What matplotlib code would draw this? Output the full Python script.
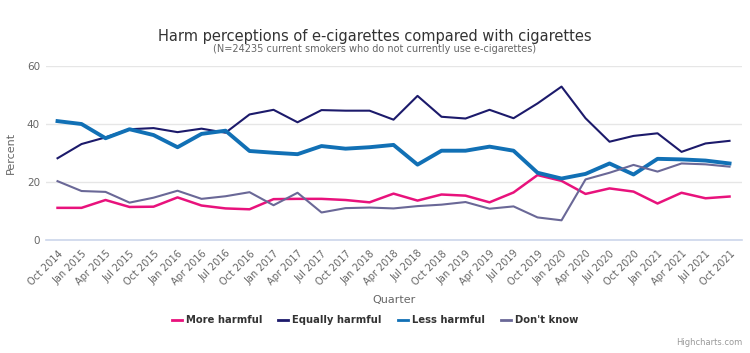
import numpy as np
import matplotlib
matplotlib.use('Agg')
import matplotlib.pyplot as plt

# 季度标签
quarters = ['Oct 2014', 'Jan 2015', 'Apr 2015', 'Jul 2015', 'Oct 2015', 'Jan 2016', 'Apr 2016',
            'Jul 2016', 'Oct 2016', 'Jan 2017', 'Apr 2017', 'Jul 2017', 'Oct 2017', 'Jan 2018',
            'Apr 2018', 'Jul 2018', 'Oct 2018', 'Jan 2019', 'Apr 2019', 'Jul 2019', 'Oct 2019',
            'Jan 2020', 'Apr 2020', 'Jul 2020', 'Oct 2020', 'Jan 2021', 'Apr 2021', 'Jul 2021',
            'Oct 2021']

# 各系列百分比
more_harmful = [11.1, 11.1, 13.8, 11.4, 11.5, 14.7, 11.9, 10.9, 10.6, 14.1, 14.2, 14.2, 13.8, 13.0,
                16.0, 13.6, 15.7, 15.3, 13.0, 16.4, 22.4, 20.4, 15.9, 17.8, 16.7, 12.6, 16.3, 14.4, 15.0]
equally_harmful = [28.2, 33.1, 35.4, 38.2, 38.6, 37.2, 38.4, 37.0, 43.3, 44.9, 40.6, 44.8, 44.6, 44.6,
                   41.5, 49.7, 42.5, 41.9, 44.9, 42.0, 47.1, 52.9, 42.0, 33.9, 35.9, 36.8, 30.4, 33.3, 34.2]
less_harmful = [41.0, 40.0, 35.1, 38.2, 36.2, 32.0, 36.6, 37.7, 30.7, 30.1, 29.6, 32.4, 31.5, 32.0,
                32.8, 26.0, 30.8, 30.8, 32.2, 30.8, 23.2, 21.2, 22.8, 26.4, 22.6, 28.0, 27.8, 27.4, 26.4]
dont_know = [20.3, 16.9, 16.6, 12.9, 14.6, 17.0, 14.2, 15.1, 16.5, 12.0, 16.3, 9.5, 11.0, 11.2,
             10.9, 11.7, 12.2, 13.1, 10.8, 11.6, 7.8, 6.8, 20.9, 23.2, 25.9, 23.6, 26.4, 26.1, 25.3]

x = np.arange(len(quarters))

fig = plt.figure(figsize=(7.5, 3.53), dpi=100)
ax = fig.add_axes([0.0607, 0.320, 0.928, 0.493])

ax.plot(x, more_harmful, color='#e8127c', lw=1.8, label='More harmful', zorder=3)
ax.plot(x, equally_harmful, color='#1c1a6b', lw=1.5, label='Equally harmful', zorder=3)
ax.plot(x, less_harmful, color='#1170b5', lw=2.8, label='Less harmful', zorder=3)
ax.plot(x, dont_know, color='#6a6897', lw=1.5, label="Don't know", zorder=3)

ax.set_xlim(-0.5, len(quarters) - 0.5)
ax.set_ylim(0, 60)
ax.set_yticks([0, 20, 40, 60])
ax.grid(axis='y', color='#e6e6e6', lw=1)
ax.set_axisbelow(True)
for s in ['top', 'right', 'left']:
    ax.spines[s].set_visible(False)
ax.spines['bottom'].set_color('#ccd6eb')
ax.spines['bottom'].set_linewidth(1.2)

ax.set_xticks(x)
ax.set_xticklabels(quarters, rotation=45, ha='right', rotation_mode='anchor',
                   fontsize=7, color='#666666')
ax.tick_params(axis='x', length=0, pad=6)
ax.tick_params(axis='y', length=0, labelsize=7.5, labelcolor='#666666', pad=4)

ax.set_xlabel('Quarter', fontsize=8, color='#666666', labelpad=6)
ax.set_ylabel('Percent', fontsize=8, color='#666666', labelpad=8)

fig.text(0.5, 0.898, 'Harm perceptions of e-cigarettes compared with cigarettes',
         ha='center', va='center', fontsize=10.5, color='#333333')
fig.text(0.5, 0.860, '(N=24235 current smokers who do not currently use e-cigarettes)',
         ha='center', va='center', fontsize=7, color='#666666')

leg = fig.legend(loc='center', bbox_to_anchor=(0.5, 0.093), ncol=4, frameon=False,
                 handlelength=1.0, handletextpad=0.4, columnspacing=1.6,
                 prop={'size': 7.2, 'weight': 'bold'})
for t in leg.get_texts():
    t.set_color('#333333')
for h in leg.get_lines():
    h.set_linewidth(2)

fig.text(0.99, 0.018, 'Highcharts.com', ha='right', va='bottom', fontsize=6, color='#999999')

fig.savefig('out.png', dpi=100)
